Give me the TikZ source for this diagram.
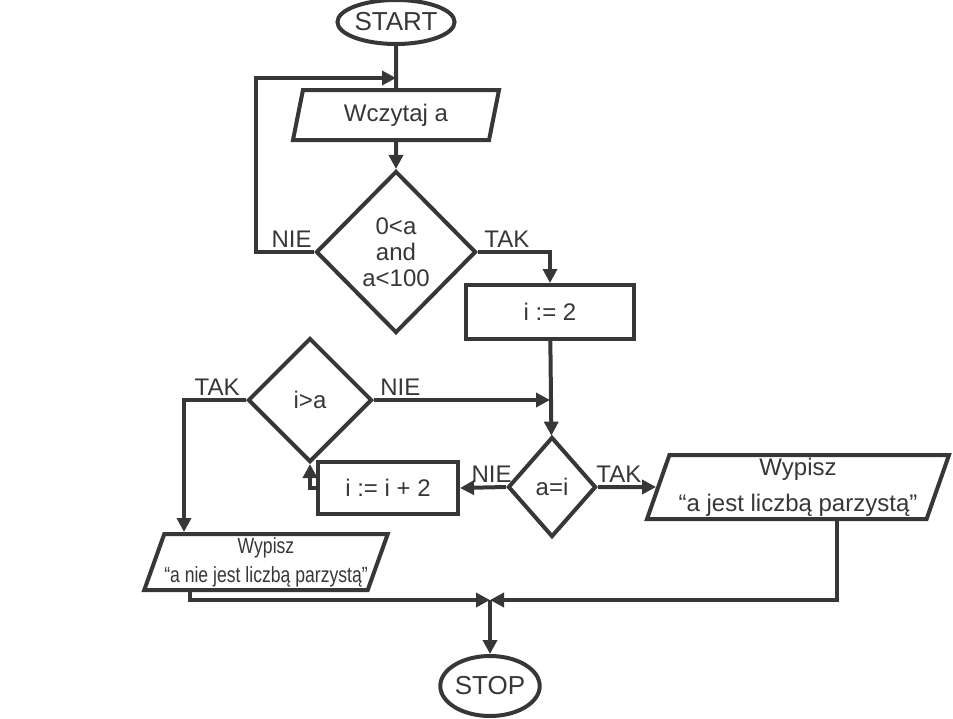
\documentclass[tikz,border=0pt]{standalone}
\usepackage{fontspec}
\setmainfont{Liberation Sans}
\newfontfamily\narrowfont[FakeStretch=0.8]{Liberation Sans}
\usepackage{tikz}
\usetikzlibrary{
	shapes.geometric,
	positioning,
	arrows.meta
}
\definecolor{ink}{RGB}{55,55,55}
\tikzset{
	block/.style={draw=ink,line width=2pt,fill=white,text=ink,align=center,
		font=\fontsize{12}{13}\selectfont},
	terminal/.style={block,ellipse,inner sep=0pt,font=\fontsize{13}{14}\selectfont},
	io/.style={block,trapezium,trapezium stretches body=true,inner sep=0pt},
	decision/.style={block,diamond,inner sep=0pt},
	process/.style={block,rectangle,inner sep=0pt},
	lbl/.style={text=ink,font=\fontsize{12}{13}\selectfont,inner sep=1pt},
	line/.style={draw=ink,line width=2pt},
	flow/.style={line,-{Triangle[length=7pt,width=7pt]}}
}

\begin{document}
\begin{tikzpicture}[x=0.5pt,y=-0.5pt]
	\useasboundingbox (0,0) rectangle (953,718);
	\draw
		node [terminal,minimum width=56pt,minimum height=22pt] (start) at (396,22) {START}
		node [io,trapezium left angle=66,trapezium right angle=114,
			minimum width=103pt,minimum height=25pt]                 (read) at (396,115) {Wczytaj a}
		node [decision,minimum width=80pt,minimum height=81pt]      (range) at (396,252) {0<a\\and\\a<100}
		node [process,minimum width=84pt,minimum height=27pt]       (init) at (550,312) {i := 2}
		node [decision,minimum width=62pt,minimum height=62pt]      (over) at (310,400) {i>a}
		node [decision,minimum width=44pt,minimum height=50pt]      (equal) at (552,487) {a=i}
		node [process,minimum width=70pt,minimum height=26pt]       (step2) at (388,488) {i := i + 2}
		node [io,trapezium left angle=69,trapezium right angle=111,
			minimum width=151pt,minimum height=32pt]                 (even) at (798,487) {Wypisz\\[5pt]“a jest liczbą parzystą”}
		node [io,trapezium left angle=68,trapezium right angle=112,
			font=\narrowfont\fontsize{11}{14.5}\selectfont,
			minimum width=121pt,minimum height=28pt]                 (odd) at (266,562) {Wypisz\\“a nie jest liczbą parzystą”}
		node [terminal,minimum width=47pt,minimum height=30pt]      (stop) at (490,686) {STOP}
	;

	% junctions
	\coordinate (back) at (start.south |- 0,78);
	\coordinate (merge) at (init.south |- over.east);
	\coordinate (join) at (stop.north |- 0,600);

	% connectors
	\draw[line] (start) -- (read.north);
	\draw[flow] (range.west) -- ++(-58,0) |- (back);
	\draw[flow] (read) -- (range);
	\draw[flow] (range.east) -| (init.north);
	\draw[flow] (init) -- (equal);
	\draw[flow] (over.east) -- (merge);
	\draw[flow] (over.west) -- ++(-62,0) coordinate (tak) -- (tak |- odd.north);
	\draw[flow] (equal.west) -- (step2.east);
	\draw[flow] (step2.west) -| (over.south);
	\draw[flow] (equal.east) -- (even.west);
	\draw[flow] ([xshift=19.5pt]even.south) |- (join);
	\draw[flow] ([xshift=-38pt]odd.south) |- (join);
	\draw[flow] (join) -- (stop);

	% branch labels
	\node [lbl,above left=1pt and 0pt of range.west]   (rangeno)  {NIE};
	\node [lbl,above right=1pt and 2pt of range.east]  (rangeyes) {TAK};
	\node [lbl,above left=1pt and 2pt of over.west]    (overyes)  {TAK};
	\node [lbl,above right=1pt and 2pt of over.east]   (overno)   {NIE};
	\node [lbl,above left=1pt and -4pt of equal.west]  (equalno)  {NIE};
	\node [lbl,above right=1pt and -2pt of equal.east] (equalyes) {TAK};
\end{tikzpicture}
\end{document}
